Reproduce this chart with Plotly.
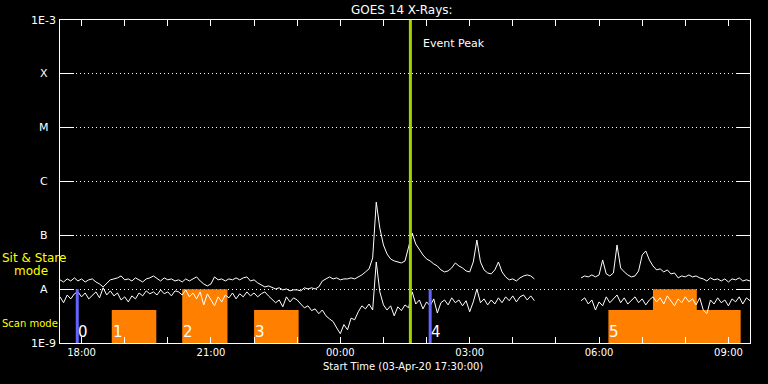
import pandas as pd
import plotly.graph_objects as go

# ---------------- data ----------------
t_seg1 = pd.date_range("2020-04-03 17:30", periods=133, freq="5min")
t_seg2 = pd.date_range("2020-04-04 05:35", periods=48, freq="5min")

# GOES 14 long channel (1-8 A), units of 1e-8 W/m^2
long_seg1 = [
    1.49, 1.36, 1.55, 1.42, 1.62, 1.42, 1.55, 1.36, 1.49, 1.55,
    1.36, 1.25, 1.10, 1.31, 1.49, 1.55, 1.62, 1.76, 1.49, 1.55,
    1.42, 1.62, 1.49, 1.36, 1.55, 1.62, 1.76, 1.55, 1.42, 1.62,
    1.49, 1.55, 1.42, 1.49, 1.36, 1.55, 1.42, 1.55, 1.69, 1.42,
    1.25, 1.15, 1.25, 1.69, 1.49, 1.55, 1.42, 1.55, 1.49, 1.62,
    1.49, 1.62, 1.69, 1.42, 1.49, 1.31, 1.20, 1.10, 1.15, 1.06,
    1.01, 1.06, 0.97, 1.01, 0.93, 0.97, 0.97, 0.93, 1.06, 1.01,
    1.06, 1.01, 1.10, 1.42, 1.55, 1.69, 1.55, 1.62, 1.49, 1.55,
    1.55, 1.62, 1.55, 1.69, 1.84, 2.09, 2.38, 3.80, 41.4, 13.6,
    6.61, 4.51, 3.64, 3.34, 3.20, 3.07, 3.34, 5.82, 11.0, 6.90,
    5.34, 4.32, 3.64, 3.34, 2.94, 2.70, 2.28, 2.09, 2.18, 2.48,
    3.07, 2.70, 2.48, 2.18, 2.09, 3.20, 8.18, 3.20, 2.28, 2.00,
    1.92, 2.28, 3.20, 2.09, 1.69, 1.49, 1.55, 1.42, 1.62, 1.76,
    1.84, 1.76, 1.55,
]
long_seg2 = [
    1.62, 1.76, 1.69, 1.84, 1.69, 1.84, 3.49, 1.92, 1.76, 2.00,
    6.61, 2.48, 2.09, 1.84, 1.69, 1.76, 2.18, 4.32, 5.12, 3.49,
    2.70, 2.28, 2.38, 2.09, 2.28, 1.92, 2.00, 1.62, 1.76, 1.69,
    1.84, 1.69, 1.76, 1.62, 1.55, 1.42, 1.62, 1.49, 1.55, 1.42,
    1.55, 1.36, 1.55, 1.49, 1.62, 1.42, 1.49, 1.42,
]
# GOES 14 short channel (0.5-4 A), units of 1e-8 W/m^2
short_seg1 = [
    0.72, 0.56, 0.78, 0.66, 0.82, 0.89, 0.72, 0.85, 0.66, 0.78,
    0.89, 0.69, 1.06, 0.78, 0.93, 0.75, 0.85, 0.63, 0.72, 0.58,
    0.75, 0.66, 0.85, 0.75, 0.93, 0.82, 0.89, 0.78, 0.97, 0.82,
    0.89, 0.75, 0.93, 0.89, 0.78, 0.97, 0.72, 0.85, 0.66, 0.89,
    0.51, 0.82, 0.63, 0.49, 0.72, 0.58, 0.78, 0.69, 0.85, 0.66,
    0.82, 0.72, 0.89, 0.75, 0.85, 0.72, 0.82, 0.89, 0.75, 0.66,
    0.56, 0.63, 0.47, 0.72, 0.58, 0.69, 0.63, 0.53, 0.45, 0.49,
    0.40, 0.43, 0.35, 0.41, 0.32, 0.28, 0.25, 0.19, 0.149, 0.22,
    0.176, 0.29, 0.27, 0.38, 0.49, 0.43, 0.53, 0.41, 3.20, 0.89,
    0.51, 0.41, 0.49, 0.32, 0.47, 0.40, 0.51, 0.45, 0.89, 0.53,
    0.63, 0.43, 0.58, 0.49, 0.66, 0.36, 0.56, 0.63, 0.51, 0.69,
    0.56, 0.63, 0.49, 0.61, 0.38, 0.58, 1.01, 0.56, 0.66, 0.51,
    0.63, 0.53, 0.69, 0.56, 0.72, 0.61, 0.75, 0.58, 0.72, 0.78,
    0.63, 0.75, 0.61,
]
short_seg2 = [
    0.61, 0.69, 0.53, 0.63, 0.41, 0.58, 0.49, 0.72, 0.56, 0.66,
    0.78, 0.56, 0.69, 0.53, 0.63, 0.72, 0.56, 0.66, 0.51, 0.63,
    0.72, 0.58, 0.69, 0.53, 0.75, 0.61, 0.49, 0.66, 0.56, 0.72,
    0.58, 0.66, 0.51, 0.69, 0.41, 0.35, 0.63, 0.53, 0.69, 0.56,
    0.63, 0.49, 0.66, 0.58, 0.72, 0.53, 0.69, 0.61,
]
flux_unit = 1e-8

# observing blocks (scan mode rasters)
scan_start = ["2020-04-03 18:42", "2020-04-03 20:20", "2020-04-03 22:00",
              "2020-04-04 06:13", "2020-04-04 07:15"]
scan_end = ["2020-04-03 19:44", "2020-04-03 21:23", "2020-04-03 23:02",
            "2020-04-04 09:17", "2020-04-04 08:16"]
scan_top = [4.1e-9, 1e-8, 4.1e-9, 4.1e-9, 1e-8]

# sit & stare markers
sit_times = ["2020-04-03 17:54", "2020-04-04 02:05"]
sit_top = 1e-8

# observation numbers
obs_labels = ["0", "1", "2", "3", "4", "5"]
obs_times = ["2020-04-03 17:54", "2020-04-03 18:42", "2020-04-03 20:20",
             "2020-04-03 22:00", "2020-04-04 02:05", "2020-04-04 06:13"]

peak_time = "2020-04-04 01:37:30"

y_tickvals = [1e-9, 1e-8, 1e-7, 1e-6, 1e-5, 1e-4, 1e-3]
y_ticktext = ["1E-9", "A", "B", "C", "M", "X", "1E-3"]

x_hours = pd.date_range("2020-04-03 18:00", "2020-04-04 09:00", freq="1h")
x_ticktext = [h.strftime("%H:%M") if h.hour % 3 == 0 else "" for h in x_hours]

ymin, ymax = 1e-9, 1e-3
FONT = "DejaVu Sans"
ORANGE = "#ff8000"
BLUE = "#6464ff"
GREEN = "#a4d400"

# ---------------- figure ----------------
fig = go.Figure()

for s, e, top in zip(scan_start, scan_end, scan_top):
    fig.add_trace(go.Scatter(
        x=[s, s, e, e, s], y=[ymin, top, top, ymin, ymin],
        mode="lines", fill="toself", fillcolor=ORANGE,
        line=dict(color=ORANGE, width=0), hoverinfo="skip", showlegend=False))

x_all = list(t_seg1) + [None] + list(t_seg2)
long_all = [v * flux_unit for v in long_seg1] + [None] + [v * flux_unit for v in long_seg2]
short_all = [v * flux_unit for v in short_seg1] + [None] + [v * flux_unit for v in short_seg2]

fig.add_trace(go.Scatter(x=x_all, y=long_all, mode="lines",
                         line=dict(color="white", width=1), connectgaps=False,
                         showlegend=False))
fig.add_trace(go.Scatter(x=x_all, y=short_all, mode="lines",
                         line=dict(color="white", width=1), connectgaps=False,
                         showlegend=False))

for t in sit_times:
    fig.add_trace(go.Scatter(x=[t, t], y=[ymin, sit_top], mode="lines",
                             line=dict(color=BLUE, width=3), showlegend=False))

fig.add_trace(go.Scatter(x=[peak_time, peak_time], y=[ymin, ymax], mode="lines",
                         line=dict(color=GREEN, width=3), showlegend=False))

annotations = []
for lab, t in zip(obs_labels, obs_times):
    annotations.append(dict(x=t, y=-8.8, xref="x", yref="y", text=lab,
                            showarrow=False, xanchor="left", yanchor="middle",
                            xshift=-1,
                            font=dict(family=FONT, size=15, color="white")))

for v, txt in zip([-9, -8, -7, -6, -5, -4, -3], y_ticktext):
    annotations.append(dict(x=-0.0232, y=v, xref="paper", yref="y", text=txt,
                            showarrow=False, xanchor="center", yanchor="middle",
                            font=dict(family=FONT, size=11, color="white")))

annotations += [
    dict(x=0.495, y=1.0, xref="paper", yref="paper", text="GOES 14 X-Rays:",
         showarrow=False, xanchor="center", yanchor="bottom", yshift=1,
         font=dict(family=FONT, size=12, color="white")),
    dict(x="2020-04-04 01:52:30", y=0.927, xref="x", yref="paper", text="Event Peak",
         showarrow=False, xanchor="left", yanchor="middle",
         font=dict(family=FONT, size=11, color="white")),
    dict(x=0.497, y=-0.073, xref="paper", yref="paper",
         text="Start Time (03-Apr-20 17:30:00)",
         showarrow=False, xanchor="center", yanchor="middle",
         font=dict(family=FONT, size=10, color="white")),
    dict(x=-0.087, y=0.262, xref="paper", yref="paper", text="Sit &amp; Stare",
         showarrow=False, xanchor="left", yanchor="middle",
         font=dict(family=FONT, size=12, color="#ffff00")),
    dict(x=-0.070, y=0.224, xref="paper", yref="paper", text="mode",
         showarrow=False, xanchor="left", yanchor="middle",
         font=dict(family=FONT, size=12, color="#ffff00")),
    dict(x=-0.087, y=0.059, xref="paper", yref="paper", text="Scan mode",
         showarrow=False, xanchor="left", yanchor="middle",
         font=dict(family=FONT, size=10, color="#ffff00")),
]

fig.update_layout(
    width=768, height=384,
    margin=dict(l=60, r=18, t=20, b=41),
    paper_bgcolor="black", plot_bgcolor="black",
    font=dict(family=FONT, size=10, color="white"),
    showlegend=False,
    hovermode=False,
    annotations=annotations,
    xaxis=dict(
        type="date", range=["2020-04-03 17:30", "2020-04-04 09:30"],
        tickmode="array", tickvals=list(x_hours), ticktext=x_ticktext,
        ticks="inside", ticklen=6, tickwidth=1, tickcolor="white",
        showline=True, linecolor="white", linewidth=1, mirror="ticks",
        showgrid=False, zeroline=False,
        tickfont=dict(family=FONT, size=10, color="white"),
    ),
    yaxis=dict(
        type="log", range=[-9, -3],
        tickmode="array", tickvals=y_tickvals, ticktext=y_ticktext,
        showticklabels=False,
        ticks="inside", ticklen=14, tickwidth=1, tickcolor="white",
        showline=True, linecolor="white", linewidth=1, mirror="ticks",
        showgrid=True, gridcolor="white", gridwidth=1, griddash="1px,3px",
        zeroline=False,
    ),
)

fig.write_html(
    "out.html",
    config={"displayModeBar": False, "staticPlot": True},
    post_script="document.body.style.margin='0';document.body.style.padding='0';"
                "document.body.style.background='black';",
)
